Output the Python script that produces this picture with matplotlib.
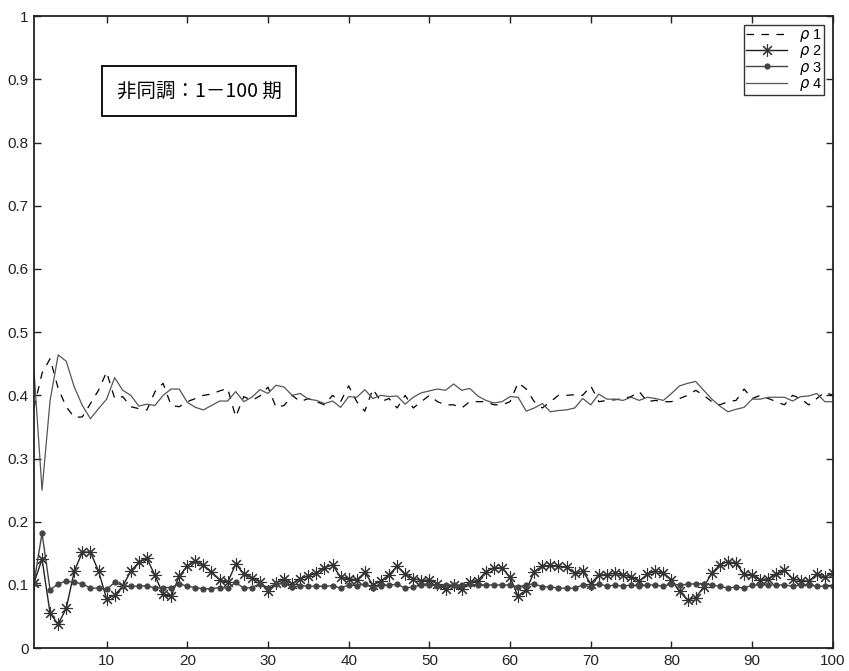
import matplotlib.pyplot as plt
import numpy as np

# periods 1..100
periods = np.arange(1, 101)

rho1 = [0.380, 0.435, 0.458, 0.411, 0.382, 0.365, 0.366, 0.387, 0.408, 0.437,
        0.395, 0.398, 0.382, 0.379, 0.377, 0.406, 0.419, 0.384, 0.382, 0.390,
        0.395, 0.400, 0.402, 0.407, 0.411, 0.366, 0.398, 0.392, 0.399, 0.413,
        0.381, 0.384, 0.400, 0.390, 0.395, 0.390, 0.385, 0.400, 0.390, 0.415,
        0.390, 0.375, 0.410, 0.390, 0.395, 0.380, 0.400, 0.380, 0.390, 0.400,
        0.390, 0.385, 0.385, 0.380, 0.390, 0.390, 0.390, 0.385, 0.385, 0.390,
        0.420, 0.410, 0.390, 0.380, 0.390, 0.400, 0.400, 0.401, 0.400, 0.415,
        0.390, 0.392, 0.393, 0.395, 0.398, 0.406, 0.390, 0.392, 0.390, 0.390,
        0.395, 0.400, 0.408, 0.400, 0.390, 0.385, 0.390, 0.392, 0.410, 0.395,
        0.400, 0.395, 0.390, 0.385, 0.400, 0.395, 0.385, 0.395, 0.405, 0.400]

rho2 = [0.103, 0.141, 0.055, 0.038, 0.063, 0.122, 0.152, 0.152, 0.122, 0.078,
        0.084, 0.098, 0.122, 0.136, 0.142, 0.115, 0.085, 0.082, 0.114, 0.130,
        0.138, 0.131, 0.121, 0.108, 0.104, 0.133, 0.118, 0.111, 0.105, 0.090,
        0.103, 0.109, 0.102, 0.110, 0.114, 0.119, 0.127, 0.132, 0.112, 0.110,
        0.108, 0.120, 0.100, 0.106, 0.116, 0.130, 0.117, 0.110, 0.107, 0.108,
        0.102, 0.093, 0.100, 0.093, 0.105, 0.107, 0.121, 0.127, 0.127, 0.112,
        0.082, 0.092, 0.121, 0.130, 0.131, 0.130, 0.128, 0.119, 0.122, 0.102,
        0.116, 0.116, 0.119, 0.116, 0.113, 0.106, 0.117, 0.122, 0.119, 0.108,
        0.090, 0.076, 0.080, 0.097, 0.119, 0.132, 0.137, 0.134, 0.117, 0.116,
        0.108, 0.110, 0.117, 0.123, 0.110, 0.107, 0.106, 0.117, 0.112, 0.119]

rho3 = [0.103, 0.182, 0.092, 0.102, 0.106, 0.104, 0.102, 0.095, 0.095, 0.093,
        0.104, 0.099, 0.098, 0.098, 0.099, 0.095, 0.096, 0.096, 0.102, 0.098,
        0.096, 0.094, 0.094, 0.096, 0.095, 0.104, 0.095, 0.096, 0.102, 0.096,
        0.102, 0.102, 0.097, 0.099, 0.098, 0.098, 0.098, 0.099, 0.095, 0.100,
        0.099, 0.101, 0.096, 0.099, 0.100, 0.101, 0.095, 0.097, 0.100, 0.100,
        0.099, 0.100, 0.100, 0.100, 0.101, 0.100, 0.100, 0.100, 0.100, 0.100,
        0.097, 0.100, 0.102, 0.097, 0.097, 0.095, 0.095, 0.095, 0.100, 0.097,
        0.102, 0.098, 0.100, 0.098, 0.100, 0.098, 0.100, 0.100, 0.098, 0.101,
        0.100, 0.101, 0.102, 0.102, 0.100, 0.098, 0.095, 0.097, 0.095, 0.100,
        0.100, 0.100, 0.100, 0.100, 0.098, 0.100, 0.100, 0.098, 0.098, 0.098]

rho4 = [0.440, 0.250, 0.392, 0.464, 0.454, 0.413, 0.384, 0.363, 0.379, 0.394,
        0.428, 0.408, 0.400, 0.383, 0.386, 0.384, 0.400, 0.410, 0.410, 0.389,
        0.381, 0.377, 0.384, 0.391, 0.391, 0.406, 0.390, 0.397, 0.409, 0.403,
        0.416, 0.413, 0.400, 0.403, 0.394, 0.392, 0.387, 0.391, 0.381, 0.398,
        0.397, 0.409, 0.395, 0.400, 0.398, 0.399, 0.386, 0.397, 0.404, 0.407,
        0.410, 0.408, 0.418, 0.408, 0.411, 0.399, 0.392, 0.388, 0.390, 0.398,
        0.397, 0.375, 0.380, 0.387, 0.374, 0.376, 0.377, 0.380, 0.395, 0.385,
        0.402, 0.394, 0.394, 0.392, 0.397, 0.392, 0.397, 0.395, 0.392, 0.403,
        0.415, 0.419, 0.422, 0.408, 0.394, 0.383, 0.374, 0.378, 0.381, 0.394,
        0.394, 0.397, 0.397, 0.397, 0.391, 0.398, 0.399, 0.403, 0.390, 0.390]

x_ticks = [10, 20, 30, 40, 50, 60, 70, 80, 90, 100]
y_ticks = [0, 0.1, 0.2, 0.3, 0.4, 0.5, 0.6, 0.7, 0.8, 0.9, 1]
y_tick_labels = ['0', '0.1', '0.2', '0.3', '0.4', '0.5', '0.6', '0.7', '0.8', '0.9', '1']

plt.rcParams['font.family'] = ['Liberation Sans', 'DejaVu Sans']

fig = plt.figure(figsize=(8.49, 6.71), dpi=100)
ax = fig.add_axes([0.040, 0.034, 0.941, 0.942])

# asterisk marker: 8 arms like the old matlab '*'
star = (8, 2, 0)

ax.plot(periods, rho1, color='black', linestyle=(0, (6, 6)), linewidth=0.9, label=r'$\rho$ 1')
ax.plot(periods, rho2, color='#222222', linewidth=1.0, marker=star, markersize=9,
        markeredgewidth=0.8, markeredgecolor='#333333', label=r'$\rho$ 2')
ax.plot(periods, rho3, color='#444444', linewidth=1.0, marker='o', markersize=4.5,
        markeredgewidth=0, markerfacecolor='#444444', label=r'$\rho$ 3')
ax.plot(periods, rho4, color='#555555', linewidth=0.9, label=r'$\rho$ 4')

ax.set_xlim(1, 100)
ax.set_ylim(0, 1)
ax.set_xticks(x_ticks)
ax.set_yticks(y_ticks)
ax.set_yticklabels(y_tick_labels)
ax.tick_params(direction='in', length=5, width=1, top=True, right=True,
               labelsize=11, colors='#222222', pad=4)
for side in ax.spines.values():
    side.set_linewidth(1.3)
    side.set_color('#222222')

leg = ax.legend(loc='upper right', fontsize=10.5, frameon=True, fancybox=False,
                edgecolor='black', handlelength=2.8, borderpad=0.15,
                labelspacing=-0.05, handletextpad=0.8, borderaxespad=0.6)
leg.get_frame().set_linewidth(1.0)

ax.text(0.207, 0.881, '非同調：1－100 期', transform=ax.transAxes,
        ha='center', va='center', fontsize=14,
        family=['Noto Sans CJK JP', 'DejaVu Sans'],
        bbox=dict(boxstyle='square,pad=0.75', facecolor='white',
                  edgecolor='black', linewidth=1.3))

fig.savefig('out.png', dpi=100)
